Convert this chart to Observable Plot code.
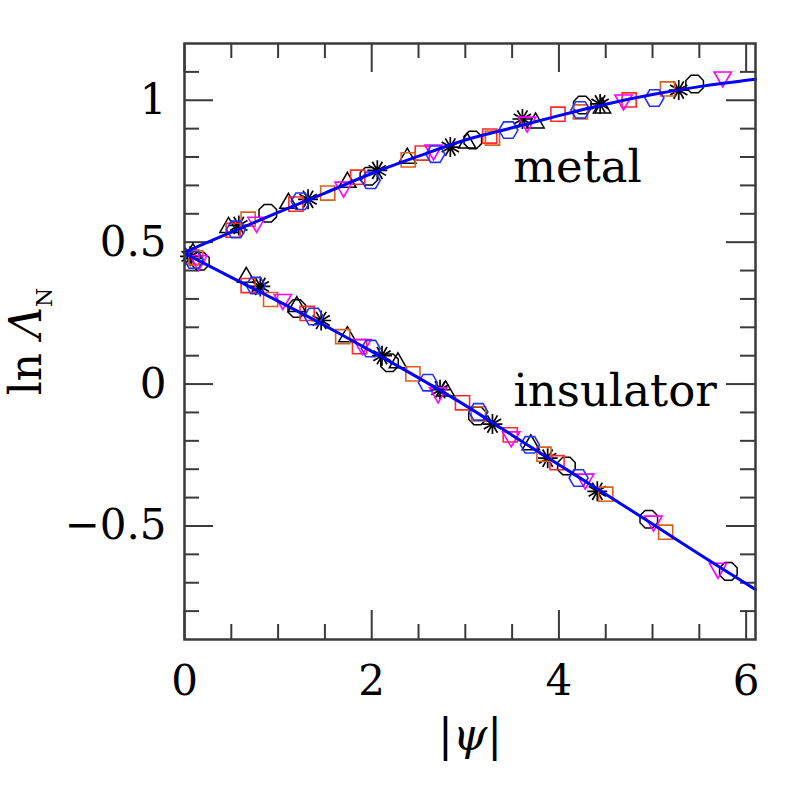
<!DOCTYPE html>
<html><head><meta charset="utf-8">
<script src="https://cdn.jsdelivr.net/npm/d3@7"></script>
<script src="https://cdn.jsdelivr.net/npm/@observablehq/plot@0.6"></script>
<style>body{margin:0;background:#fff}</style>
</head><body><div id="chart"></div>
<script>
// ---- tick values ----
const xMajorTicks = [0, 2, 4, 6];
const xMinorTicks = [0.5, 1, 1.5, 2.5, 3, 3.5, 4.5, 5, 5.5];
const yMajorTicks = [-0.5, 0, 0.5, 1];
const yMinorTicks = [-0.8, -0.7, -0.6, -0.4, -0.3, -0.2, -0.1, 0.1, 0.2, 0.3, 0.4, 0.6, 0.7, 0.8, 0.9, 1.1];

// ---- data: [|psi|, ln Lambda_N] ----
const octagonMetal = [[0.17,0.433],[0.89,0.602],[1.97,0.732],[3.08,0.860],[4.25,0.983],[5.45,1.057]];
const triangleMetal = [[0.09,0.46],[0.47,0.552],[1.11,0.637],[1.74,0.711],[2.38,0.796],[3.02,0.849],[3.75,0.920],[4.46,0.973]];
const asteriskMetal = [[0.06,0.45],[0.58,0.559],[1.32,0.651],[2.06,0.753],[2.84,0.835],[3.61,0.934],[4.44,0.987],[5.28,1.036]];
const redSquareMetal = [[0.08,0.447],[0.52,0.542],[1.19,0.634],[1.85,0.729],[2.54,0.814],[3.26,0.874],[3.99,0.951],[4.75,1.001]];
const orangeSquareMetal = [[0.12,0.445],[0.68,0.581],[1.53,0.673],[2.39,0.790],[3.29,0.867],[4.23,0.959],[5.16,1.040]];
const magentaMetal = [[0.15,0.435],[0.77,0.570],[1.70,0.694],[2.66,0.825],[3.66,0.923],[4.69,1.001],[5.75,1.082]];
const hexagonMetal = [[0.1,0.437],[0.55,0.545],[1.24,0.644],[1.99,0.718],[2.68,0.810],[3.46,0.895],[4.23,0.966],[5.02,1.008]];

const octagonInsulator = [[1.20,0.266],[2.19,0.075],[3.13,-0.112],[4.08,-0.289],[4.96,-0.476],[5.81,-0.660]];
const triangleInsulator = [[0.66,0.376],[1.20,0.273],[1.74,0.167],[2.28,0.075],[2.79,-0.024],[3.70,-0.214]];
const asteriskInsulator = [[0.81,0.344],[1.46,0.224],[2.11,0.100],[2.73,-0.020],[3.29,-0.141],[3.88,-0.261],[4.41,-0.378]];
const redSquareInsulator = [[0.68,0.347],[1.31,0.249],[1.87,0.132],[2.97,-0.066],[3.48,-0.179],[3.98,-0.277]];
const orangeSquareInsulator = [[0.92,0.298],[1.69,0.167],[2.44,0.036],[3.14,-0.105],[3.84,-0.247],[4.50,-0.388],[5.14,-0.522]];
const magentaInsulator = [[1.05,0.298],[1.90,0.139],[2.71,-0.031],[3.49,-0.186],[4.28,-0.335],[5.01,-0.483],[5.70,-0.649]];
const hexagonInsulator = [[0.76,0.347],[1.38,0.238],[1.99,0.125],[2.60,0.005],[3.14,-0.098],[3.69,-0.214],[4.21,-0.331]];

// fitted curves
const metalCurve = [[0,0.465],[0.5,0.535],[1,0.605],[1.5,0.673],[2,0.742],[2.5,0.803],[3,0.860],[3.5,0.903],[4,0.946],[4.5,0.986],[5,1.020],[5.5,1.048],[6.1,1.074]];
const insulatorCurve = [[0,0.461],[0.5,0.376],[1,0.292],[1.6,0.188],[2,0.115],[2.5,0.022],[3,-0.075],[3.5,-0.180],[4,-0.284],[4.5,-0.388],[5,-0.493],[5.5,-0.600],[6.1,-0.724]];

const labels = [
  {text: "metal", x: 4.20, y: 0.711},
  {text: "insulator", x: 4.60, y: -0.077}
];

// ---- symbols ----
function polygon(n, rot) {
  return {draw(ctx, size) {
    const r = Math.sqrt(size / Math.PI);
    for (let i = 0; i < n; ++i) {
      const a = rot + 2 * Math.PI * i / n;
      const px = r * Math.cos(a), py = r * Math.sin(a);
      if (i) ctx.lineTo(px, py); else ctx.moveTo(px, py);
    }
    ctx.closePath();
  }};
}
const symOctagon = polygon(8, Math.PI / 8);
const symHexagon = polygon(6, 0);
const symTriUp = polygon(3, -Math.PI / 2);
const symTriDown = polygon(3, Math.PI / 2);
const symSquare = polygon(4, Math.PI / 4);
const symAsterisk = {draw(ctx, size) {
  const r = Math.sqrt(size / Math.PI);
  for (let k = 0; k < 6; ++k) {
    const a = Math.PI / 2 + k * Math.PI / 6;
    ctx.moveTo(r * Math.cos(a), r * Math.sin(a));
    ctx.lineTo(-r * Math.cos(a), -r * Math.sin(a));
  }
}};

const W = 797, H = 797;
const mL = 184, mR = 42, mT = 43, mB = 158;
const frameW = W - mL - mR, frameH = H - mT - mB;
const axisColor = "#3a3a3a";
const FONT = "DejaVu Serif";
const fmt = d => (d < 0 ? "\u2212" : "") + Math.abs(d);

const series = [
  [octagonMetal, octagonInsulator, symOctagon, "black", 9.5, 1.5],
  [triangleMetal, triangleInsulator, symTriUp, "black", 10, 1.5],
  [asteriskMetal, asteriskInsulator, symAsterisk, "black", 10, 1.7],
  [redSquareMetal, redSquareInsulator, symSquare, "#ff2a2a", 10, 1.6],
  [orangeSquareMetal, orangeSquareInsulator, symSquare, "#d9601c", 10, 1.6],
  [magentaMetal, magentaInsulator, symTriDown, "#ff00ff", 10, 1.6],
  [hexagonMetal, hexagonInsulator, symHexagon, "#2233ff", 9.5, 1.6]
];

const dotMarks = [];
for (const [m, ins, sym, col, r, sw] of series) {
  for (const arr of [m, ins]) {
    dotMarks.push(Plot.dot(arr, {x: d => d[0], y: d => d[1], symbol: sym, r, stroke: col, fill: "none", strokeWidth: sw}));
  }
}

const svg = Plot.plot({
  width: W, height: H,
  marginLeft: mL, marginRight: mR, marginTop: mT, marginBottom: mB,
  style: {fontFamily: FONT, background: "white", color: "black"},
  x: {domain: [0, 6.1]},
  y: {domain: [-0.9, 1.2]},
  marks: [
    Plot.tickX(xMinorTicks, {x: d => d, insetTop: frameH - 15, stroke: axisColor, strokeWidth: 2}),
    Plot.tickX(xMinorTicks, {x: d => d, insetBottom: frameH - 15, stroke: axisColor, strokeWidth: 2}),
    Plot.tickX(xMajorTicks, {x: d => d, insetTop: frameH - 29, stroke: axisColor, strokeWidth: 2}),
    Plot.tickX(xMajorTicks, {x: d => d, insetBottom: frameH - 29, stroke: axisColor, strokeWidth: 2}),
    Plot.tickY(yMinorTicks, {y: d => d, insetRight: frameW - 15, stroke: axisColor, strokeWidth: 2}),
    Plot.tickY(yMinorTicks, {y: d => d, insetLeft: frameW - 15, stroke: axisColor, strokeWidth: 2}),
    Plot.tickY(yMajorTicks, {y: d => d, insetRight: frameW - 29, stroke: axisColor, strokeWidth: 2}),
    Plot.tickY(yMajorTicks, {y: d => d, insetLeft: frameW - 29, stroke: axisColor, strokeWidth: 2}),
    Plot.axisX({ticks: xMajorTicks, tickSize: 0, tickPadding: 26, fontSize: 42, fontFamily: FONT, tickFormat: fmt, label: null}),
    Plot.axisY({ticks: yMajorTicks, tickSize: 0, tickPadding: 18, fontSize: 42, fontFamily: FONT, tickFormat: fmt, label: null}),
    ...dotMarks,
    Plot.line(metalCurve, {x: d => d[0], y: d => d[1], stroke: "#0000ff", strokeWidth: 3, curve: "monotone-x"}),
    Plot.line(insulatorCurve, {x: d => d[0], y: d => d[1], stroke: "#0000ff", strokeWidth: 3, curve: "monotone-x"}),
    Plot.frame({stroke: axisColor, strokeWidth: 2.5}),
    Plot.text(labels, {x: "x", y: "y", text: "text", fontSize: 45, fontFamily: FONT, lineAnchor: "bottom", textAnchor: "middle", fill: "black"}),
    Plot.text(["|\u03c8|"], {frameAnchor: "bottom", dy: 110, text: d => d, fontSize: 44, fontFamily: FONT, lineAnchor: "bottom", fill: "black"}),
    Plot.text(["ln \u039bN"], {frameAnchor: "left", dx: -144, text: d => d, rotate: -90, fontSize: 44, fontFamily: FONT, lineAnchor: "bottom", textAnchor: "middle", fill: "black"})
  ]
});

// rich text (italic psi / Lambda, subscript N)
d3.select(svg).selectAll("text").each(function() {
  const t = this.textContent;
  const sel = d3.select(this);
  if (t === "|\u03c8|") {
    this.textContent = "";
    sel.append("tspan").text("|");
    sel.append("tspan").attr("font-style", "italic").text("\u03c8");
    sel.append("tspan").text("|");
  } else if (t === "ln \u039bN") {
    this.textContent = "";
    sel.append("tspan").text("ln ");
    sel.append("tspan").attr("font-style", "italic").text("\u039b");
    sel.append("tspan").attr("font-size", 22).attr("dy", 11).text("N");
  }
});

document.getElementById("chart").appendChild(svg);
</script>
</body></html>
